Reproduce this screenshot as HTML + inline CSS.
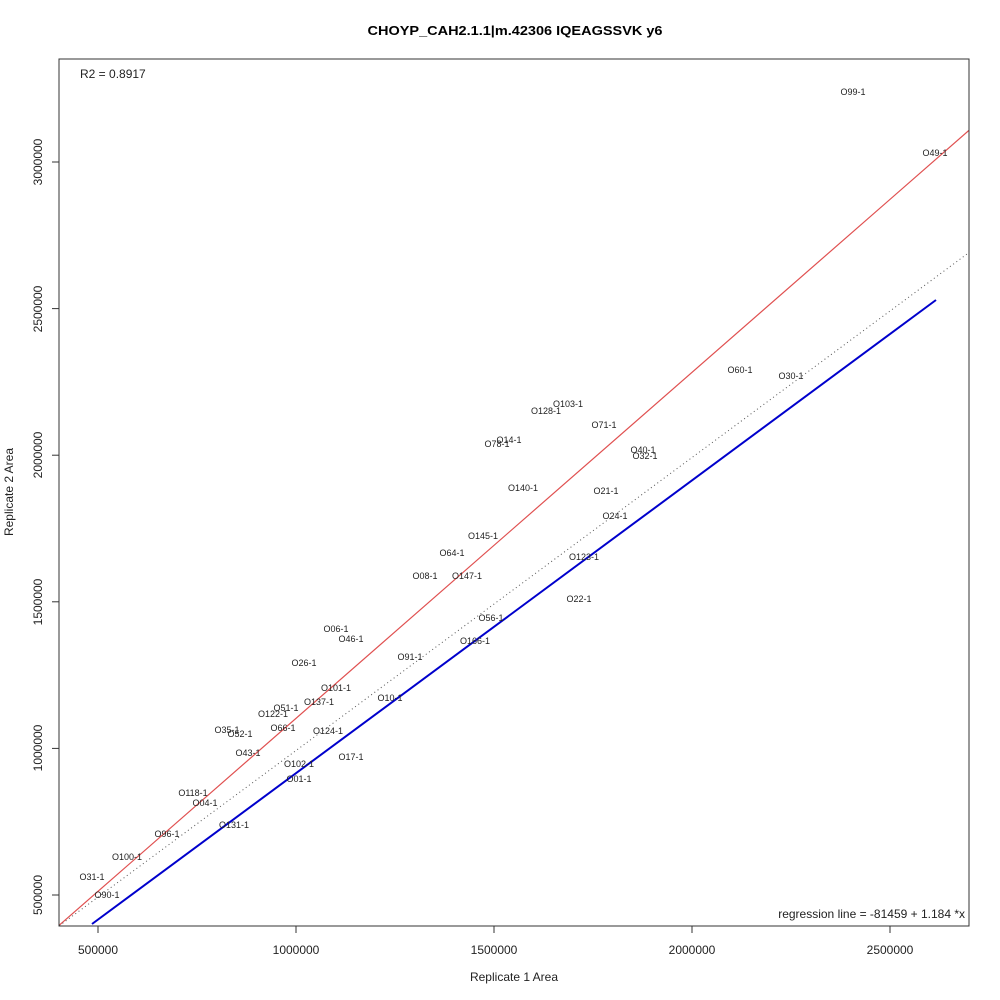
<!DOCTYPE html>
<html><head><meta charset="utf-8"><style>body{margin:0;background:#fff}svg{display:block}text{font-family:"Liberation Sans",sans-serif}</style></head>
<body>
<svg width="1000" height="1000" viewBox="0 0 1000 1000">
<rect width="1000" height="1000" fill="#fff"/>
<text x="515" y="35" font-size="13" font-weight="bold" text-anchor="middle" textLength="295" lengthAdjust="spacingAndGlyphs">CHOYP_CAH2.1.1|m.42306 IQEAGSSVK y6</text>
<defs><clipPath id="c"><rect x="59" y="59" width="910" height="867"/></clipPath></defs>
<g clip-path="url(#c)">
<line x1="40" y1="942" x2="990" y2="112" stroke="#e05050" stroke-width="1.2"/>
<line x1="40" y1="940" x2="990" y2="237" stroke="#555" stroke-width="1" stroke-dasharray="1,3"/>
<line x1="92" y1="924" x2="936" y2="300" stroke="#0000cc" stroke-width="2"/>
</g>
<rect x="59" y="59" width="910" height="867" fill="none" stroke="#333" stroke-width="1"/>
<g stroke="#333">
<line x1="98" y1="926" x2="98" y2="933"/><line x1="296" y1="926" x2="296" y2="933"/><line x1="494" y1="926" x2="494" y2="933"/><line x1="692" y1="926" x2="692" y2="933"/><line x1="890" y1="926" x2="890" y2="933"/>
<line x1="52" y1="895" x2="59" y2="895"/><line x1="52" y1="748.4" x2="59" y2="748.4"/><line x1="52" y1="601.8" x2="59" y2="601.8"/><line x1="52" y1="455.2" x2="59" y2="455.2"/><line x1="52" y1="308.6" x2="59" y2="308.6"/><line x1="52" y1="162" x2="59" y2="162"/>
</g>
<g font-size="12" text-anchor="middle" fill="#222">
<text x="98" y="954">500000</text><text x="296" y="954">1000000</text><text x="494" y="954">1500000</text><text x="692" y="954">2000000</text><text x="890" y="954">2500000</text>
<text transform="translate(42,895) rotate(-90)">500000</text>
<text transform="translate(42,748) rotate(-90)">1000000</text>
<text transform="translate(42,602) rotate(-90)">1500000</text>
<text transform="translate(42,455) rotate(-90)">2000000</text>
<text transform="translate(42,309) rotate(-90)">2500000</text>
<text transform="translate(42,162) rotate(-90)">3000000</text>
<text x="514" y="981">Replicate 1 Area</text>
<text transform="translate(13,492) rotate(-90)">Replicate 2 Area</text>
</g>
<text x="80" y="78" font-size="12" fill="#222">R2 = 0.8917</text>
<text x="965" y="918" font-size="12" text-anchor="end" fill="#222">regression line = -81459 + 1.184 *x</text>
<g font-size="9" text-anchor="middle" fill="#222">
<text x="853" y="95">O99-1</text><text x="935" y="156">O49-1</text><text x="740" y="373">O60-1</text><text x="791" y="379">O30-1</text>
<text x="568" y="407">O103-1</text><text x="546" y="414">O128-1</text><text x="604" y="428">O71-1</text><text x="509" y="443">O14-1</text>
<text x="497" y="447">O78-1</text><text x="643" y="453">O40-1</text><text x="645" y="459">O32-1</text><text x="523" y="491">O140-1</text>
<text x="606" y="494">O21-1</text><text x="615" y="519">O24-1</text><text x="483" y="539">O145-1</text><text x="452" y="556">O64-1</text>
<text x="584" y="560">O123-1</text><text x="425" y="579">O08-1</text><text x="467" y="579">O147-1</text><text x="579" y="602">O22-1</text>
<text x="491" y="621">O56-1</text><text x="336" y="632">O06-1</text><text x="351" y="642">O46-1</text><text x="475" y="644">O166-1</text>
<text x="410" y="660">O91-1</text><text x="304" y="666">O26-1</text><text x="336" y="691">O101-1</text><text x="390" y="701">O10-1</text>
<text x="319" y="705">O137-1</text><text x="286" y="711">O51-1</text><text x="273" y="717">O122-1</text><text x="227" y="733">O35-1</text>
<text x="283" y="731">O66-1</text><text x="328" y="734">O124-1</text><text x="240" y="737">O52-1</text><text x="248" y="756">O43-1</text>
<text x="351" y="760">O17-1</text><text x="299" y="767">O102-1</text><text x="299" y="782">O01-1</text><text x="193" y="796">O118-1</text>
<text x="205" y="806">O04-1</text><text x="234" y="828">O131-1</text><text x="167" y="837">O96-1</text><text x="127" y="860">O100-1</text>
<text x="92" y="880">O31-1</text><text x="107" y="898">O90-1</text>
</g>
</svg>
</body></html>
